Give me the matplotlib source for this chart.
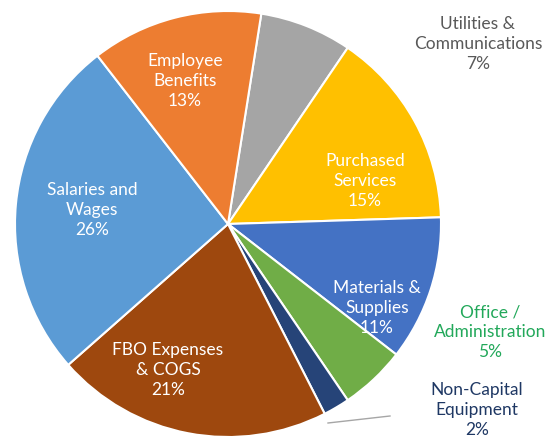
import matplotlib.pyplot as plt

labels = ['Utilities &\nCommunications\n7%', 'Purchased\nServices\n15%', 'Materials &\nSupplies\n11%',
          'Office /\nAdministration\n5%', 'Non-Capital\nEquipment\n2%', 'FBO Expenses\n& COGS\n21%',
          'Salaries and\nWages\n26%', 'Employee\nBenefits\n13%']
values = [7, 15, 11, 5, 2, 21, 26, 13]
colors = ['#A5A5A5', '#FFC000', '#4472C4', '#70AD47', '#264478', '#9E480E', '#5B9BD5', '#ED7D31']
text_colors = ['#595959', 'white', 'white', '#22A85A', '#1F3864', 'white', 'white', 'white']
# label centres in pixel coords (x, y from top)
label_pos = [(478, 44), (365, 181), (377, 308), (490, 332), (477, 410), (168, 370), (92, 210), (185, 81)]

W, H = 547, 442
fig = plt.figure(figsize=(W / 100, H / 100), dpi=100)
ax = fig.add_axes([0, 0, 1, 1])

ax.pie(values, colors=colors, startangle=81, counterclock=False,
       center=(228, H - 224), radius=213, frame=True,
       wedgeprops=dict(edgecolor='white', linewidth=1.5))
ax.set_xlim(0, W)
ax.set_ylim(0, H)
ax.axis('off')

for lab, (x, y), c in zip(labels, label_pos, text_colors):
    ax.text(x, H - y, lab, ha='center', va='center', color=c, fontsize=12.5,
            family='Lato', linespacing=1.3)

# leader line for the small slice
ax.plot([328, 390], [H - 423, H - 416], color='#A6A6A6', linewidth=1)

fig.savefig('out.png', dpi=100)
